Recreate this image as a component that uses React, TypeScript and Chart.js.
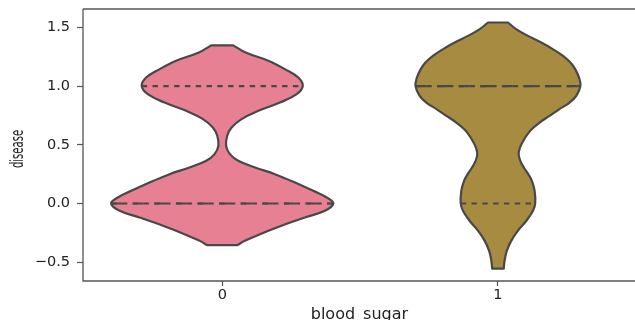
import React, { useEffect, useRef } from 'react';
import { Chart, registerables } from 'chart.js';

Chart.register(...registerables);

// ---- data ----
const categories = ['0', '1'];
const xTitle = 'blood_sugar';
const yTitle = 'disease';
const xTickValues = [0, 1];
const yTickValues = [-0.5, 0, 0.5, 1.0, 1.5];
const xLimits = [-0.505, 1.5];

// violin for category "0": y levels and half-widths (density outline)
const violin0Y = [-0.354, -0.318, -0.261, -0.19, -0.119, -0.062, 0.0, 0.051, 0.108, 0.179, 0.25, 0.307, 0.364, 0.421, 0.491, 0.577, 0.647, 0.719, 0.79, 0.86, 0.932, 1.0, 1.073, 1.145, 1.216, 1.286, 1.347];
const violin0Half = [0.055, 0.082, 0.137, 0.215, 0.3, 0.372, 0.403, 0.379, 0.33, 0.264, 0.191, 0.119, 0.058, 0.028, 0.014, 0.018, 0.034, 0.07, 0.131, 0.209, 0.27, 0.292, 0.276, 0.227, 0.167, 0.085, 0.04];

// violin for category "1"
const violin1Y = [-0.554, -0.488, -0.403, -0.318, -0.233, -0.147, -0.062, 0.0, 0.108, 0.193, 0.25, 0.307, 0.364, 0.421, 0.477, 0.534, 0.577, 0.634, 0.69, 0.747, 0.804, 0.86, 0.917, 1.0, 1.073, 1.145, 1.201, 1.258, 1.315, 1.371, 1.428, 1.486, 1.542];
const violin1Half = [0.021, 0.024, 0.032, 0.048, 0.072, 0.103, 0.127, 0.135, 0.133, 0.123, 0.11, 0.094, 0.081, 0.075, 0.08, 0.092, 0.103, 0.123, 0.151, 0.187, 0.223, 0.26, 0.284, 0.299, 0.294, 0.28, 0.263, 0.236, 0.199, 0.157, 0.109, 0.066, 0.036];

// quartiles per category
const q1Values = [0, 0];
const medianValues = [0, 1];
const q3Values = [1, 1];

const fillColors = ['rgb(230,128,146)', 'rgb(166,139,64)'];
const outlineColor = 'rgb(72,72,72)';
const spineColor = 'rgb(85,85,85)';
const textColor = 'rgb(34,34,34)';

const violinsY = [violin0Y, violin1Y];
const violinsHalf = [violin0Half, violin1Half];

function violinPath(center: number, ys: number[], hw: number[]) {
  const n = ys.length;
  const pts: { x: number; y: number }[] = [];
  pts.push({ x: center + hw[0], y: ys[0] });
  for (let i = 0; i < n; i++) pts.push({ x: center + hw[i], y: ys[i] });
  pts.push({ x: center + hw[n - 1], y: ys[n - 1] });
  pts.push({ x: center - hw[n - 1], y: ys[n - 1] });
  for (let i = n - 1; i >= 0; i--) pts.push({ x: center - hw[i], y: ys[i] });
  pts.push({ x: center - hw[0], y: ys[0] });
  pts.push({ x: center + hw[0], y: ys[0] });
  pts.push({ x: center + hw[0], y: ys[0] });
  return pts;
}

function halfAt(ys: number[], hw: number[], v: number) {
  const idx = ys.indexOf(v);
  return idx >= 0 ? hw[idx] : 0;
}

const framePlugin = {
  id: 'frame',
  afterDraw(chart: any) {
    const { ctx, chartArea, scales, width } = chart;
    const left = scales.x.getPixelForValue(xLimits[0]);
    const right = scales.x.getPixelForValue(xLimits[1]);
    const top = chartArea.top;
    const bottom = chartArea.bottom;
    ctx.save();
    ctx.strokeStyle = spineColor;
    ctx.lineWidth = 1.3;
    ctx.beginPath();
    ctx.moveTo(left, top);
    ctx.lineTo(Math.max(right, width + 2), top);
    ctx.moveTo(left, top);
    ctx.lineTo(left, bottom);
    ctx.lineTo(Math.max(right, width + 2), bottom);
    if (right < width - 1) {
      ctx.moveTo(right, top);
      ctx.lineTo(right, bottom);
    }
    ctx.stroke();

    // x axis title
    ctx.fillStyle = textColor;
    ctx.font = '16px "DejaVu Sans"';
    ctx.textAlign = 'center';
    ctx.textBaseline = 'alphabetic';
    ctx.fillText(xTitle, (left + right) / 2, 318.5);

    // y axis title, condensed as in the reference
    ctx.font = '17px "DejaVu Sans"';
    ctx.translate(22.5, 149);
    ctx.rotate(-Math.PI / 2);
    ctx.scale(0.59, 1);
    ctx.fillText(yTitle, 0, 0);
    ctx.restore();
  },
};

export default function App() {
  const ref = useRef<HTMLCanvasElement | null>(null);

  useEffect(() => {
    if (!ref.current) return;
    const datasets: any[] = [];
    xTickValues.forEach((c, i) => {
      datasets.push({
        label: 'violin ' + categories[i],
        data: violinPath(c, violinsY[i], violinsHalf[i]),
        showLine: true,
        fill: 'shape',
        backgroundColor: fillColors[i],
        borderColor: outlineColor,
        borderWidth: 2.2,
        borderJoinStyle: 'round',
        borderCapStyle: 'round',
        pointRadius: 0,
        pointHoverRadius: 0,
        tension: 0.4,
        order: 2,
      });
      const lines: [number, number[]][] = [
        [q1Values[i], [5.4, 5.4]],
        [medianValues[i], [10.8, 10.8]],
        [q3Values[i], [5.4, 5.4]],
      ];
      lines.forEach(([v, dash]) => {
        const w = halfAt(violinsY[i], violinsHalf[i], v);
        datasets.push({
          label: 'line',
          data: [
            { x: c - w, y: v },
            { x: c + w, y: v },
          ],
          showLine: true,
          fill: false,
          borderColor: outlineColor,
          borderWidth: 2.2,
          borderDash: dash,
          pointRadius: 0,
          pointHoverRadius: 0,
          tension: 0,
          order: 1,
        });
      });
    });

    const chart = new Chart(ref.current, {
      type: 'scatter',
      data: { datasets },
      options: {
        animation: false,
        responsive: false,
        devicePixelRatio: 1,
        layout: { padding: { left: 0, right: 0, top: 9, bottom: 0 } },
        plugins: { legend: { display: false }, tooltip: { enabled: false } },
        events: [],
        scales: {
          x: {
            type: 'linear',
            min: xLimits[0],
            max: 1.497,
            border: { display: false },
            grid: { display: true, drawOnChartArea: false, drawTicks: true, tickLength: 5, tickColor: spineColor, tickWidth: 1.2 },
            afterBuildTicks: (scale: any) => {
              scale.ticks = xTickValues.map((v) => ({ value: v }));
            },
            afterFit: (scale: any) => {
              scale.height = 39;
              scale.paddingLeft = 0;
              scale.paddingRight = 0;
            },
            ticks: {
              autoSkip: false,
              maxRotation: 0,
              padding: 1,
              color: textColor,
              font: { family: '"DejaVu Sans"', size: 14.5 },
              callback: (v: any) => categories[Number(v)] ?? '',
            },
            title: { display: false, text: xTitle },
          },
          y: {
            type: 'linear',
            min: -0.66,
            max: 1.657,
            border: { display: false },
            grid: { display: true, drawOnChartArea: false, drawTicks: true, tickLength: 6, tickColor: spineColor, tickWidth: 1.2 },
            afterBuildTicks: (scale: any) => {
              scale.ticks = yTickValues.map((v) => ({ value: v }));
            },
            afterFit: (scale: any) => {
              scale.width = 83;
              scale.paddingTop = 0;
              scale.paddingBottom = 0;
            },
            ticks: {
              autoSkip: false,
              padding: 7,
              color: textColor,
              font: { family: '"DejaVu Sans"', size: 14.5 },
              callback: (v: any) => {
                const n = Number(v);
                return (n < 0 ? '\u2212' : '') + Math.abs(n).toFixed(1);
              },
            },
            title: { display: false, text: yTitle },
          },
        },
      },
      plugins: [framePlugin],
    });
    return () => chart.destroy();
  }, []);

  return (
    <div style={{ position: 'fixed', left: 0, top: 0, width: 635, height: 320, overflow: 'hidden', background: '#fff' }}>
      <canvas ref={ref} width={635} height={320} style={{ width: 635, height: 320, display: 'block' }} />
    </div>
  );
}
